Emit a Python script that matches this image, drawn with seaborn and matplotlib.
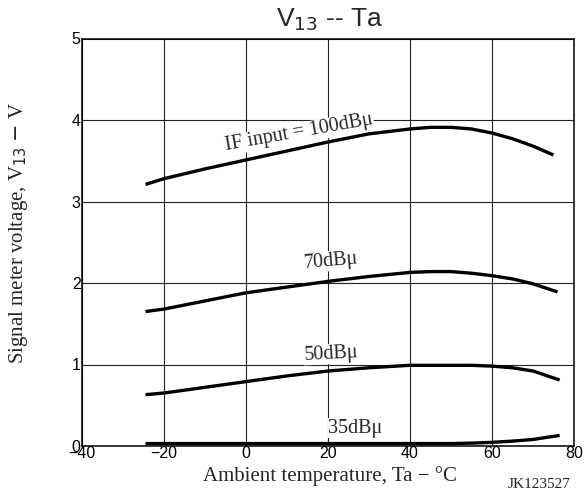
import matplotlib
matplotlib.use("Agg")
import matplotlib.pyplot as plt
import seaborn as sns
import pandas as pd

# Data
ta_100 = [-24.5, -20, -10, 0, 10, 20, 30, 40, 45, 50, 55, 60, 65, 70, 75]
v_100 = [3.21, 3.28, 3.40, 3.51, 3.62, 3.73, 3.83, 3.89, 3.91, 3.91, 3.89, 3.84, 3.77, 3.68, 3.57]
ta_70 = [-24.5, -20, -10, 0, 10, 20, 30, 40, 45, 50, 55, 60, 65, 70, 76]
v_70 = [1.65, 1.68, 1.78, 1.88, 1.95, 2.02, 2.08, 2.13, 2.14, 2.14, 2.12, 2.09, 2.05, 1.99, 1.89]
ta_50 = [-24.5, -20, -10, 0, 10, 20, 30, 40, 50, 55, 60, 65, 70, 76.5]
v_50 = [0.63, 0.65, 0.72, 0.79, 0.86, 0.92, 0.96, 0.99, 0.99, 0.99, 0.98, 0.96, 0.92, 0.81]
ta_35 = [-24.5, 0, 20, 40, 50, 55, 60, 65, 70, 76.5]
v_35 = [0.03, 0.03, 0.03, 0.03, 0.03, 0.035, 0.045, 0.06, 0.08, 0.13]

series_labels = ["IF input = 100dBμ", "70dBμ", "50dBμ", "35dBμ"]
x_ticks = [-40, -20, 0, 20, 40, 60, 80]
x_tick_labels = ["\u221240", "\u221220", "0", "20", "40", "60", "80"]
y_ticks = [0, 1, 2, 3, 4, 5]

frames = []
for lab, xs, ys in zip(series_labels, [ta_100, ta_70, ta_50, ta_35], [v_100, v_70, v_50, v_35]):
    frames.append(pd.DataFrame({"Ta": xs, "V": ys, "series": lab}))
df = pd.concat(frames, ignore_index=True)

sns.set_style("white")
plt.rcParams["font.family"] = ["Liberation Sans", "DejaVu Sans"]

fig = plt.figure(figsize=(5.84, 4.95), dpi=100)
ax = fig.add_axes([82 / 584, 49 / 495, (574 - 82) / 584, (446 - 38.5) / 495])

for lab in series_labels:
    sub = df[df["series"] == lab]
    sns.lineplot(data=sub, x="Ta", y="V", ax=ax, color="black", linewidth=2.4,
                 sort=False, estimator=None, legend=False, zorder=3,
                 solid_joinstyle="round", solid_capstyle="butt")

ax.set_xlim(-40, 80)
ax.set_ylim(0, 5)
ax.set_xticks(x_ticks)
ax.set_xticklabels(x_tick_labels)
ax.set_yticks(y_ticks)
ax.grid(True, color="#222222", linewidth=0.8)
ax.set_axisbelow(True)
for sp in ax.spines.values():
    sp.set_visible(True)
    sp.set_color("black")
    sp.set_linewidth(1.1)
ax.tick_params(axis="both", length=0, labelsize=11.5, pad=1, colors="black")
ax.tick_params(axis="x", pad=0)
ax.set_xlabel("")
ax.set_ylabel("")

bbox = dict(facecolor="white", edgecolor="none", pad=0.5)
serif = ["Liberation Serif", "DejaVu Serif"]
ax.text(13.0, 3.84, series_labels[0], rotation=10, ha="center", va="center",
        fontsize=14.5, family=serif, bbox=bbox, zorder=4)
ax.text(20.8, 2.27, series_labels[1], rotation=5, ha="center", va="center",
        fontsize=14.5, family=serif, bbox=bbox, zorder=4)
ax.text(20.8, 1.13, series_labels[2], rotation=3, ha="center", va="center",
        fontsize=14.5, family=serif, bbox=bbox, zorder=4)
ax.text(26.7, 0.22, series_labels[3], rotation=0, ha="center", va="center",
        fontsize=14.5, family=serif, bbox=bbox, zorder=4)

fig.text(330 / 584, 1 - 20 / 495, r"V$_{13}$ -- Ta", ha="center", va="center",
         fontsize=19)
fig.text(330 / 584, 1 - 476 / 495, "Ambient temperature, Ta \u2212 \u00b0C",
         ha="center", va="center", fontsize=15, family=serif)
fig.text(19 / 584, 1 - 233 / 495, r"Signal meter voltage, V$_{13}$ $-$ V",
         ha="center", va="center", rotation=90, fontsize=15, family=serif)
fig.text(539 / 584, 1 - 485 / 495, "JK123527", ha="center", va="center",
         fontsize=11, family=serif)

fig.savefig("out.png", dpi=100)
